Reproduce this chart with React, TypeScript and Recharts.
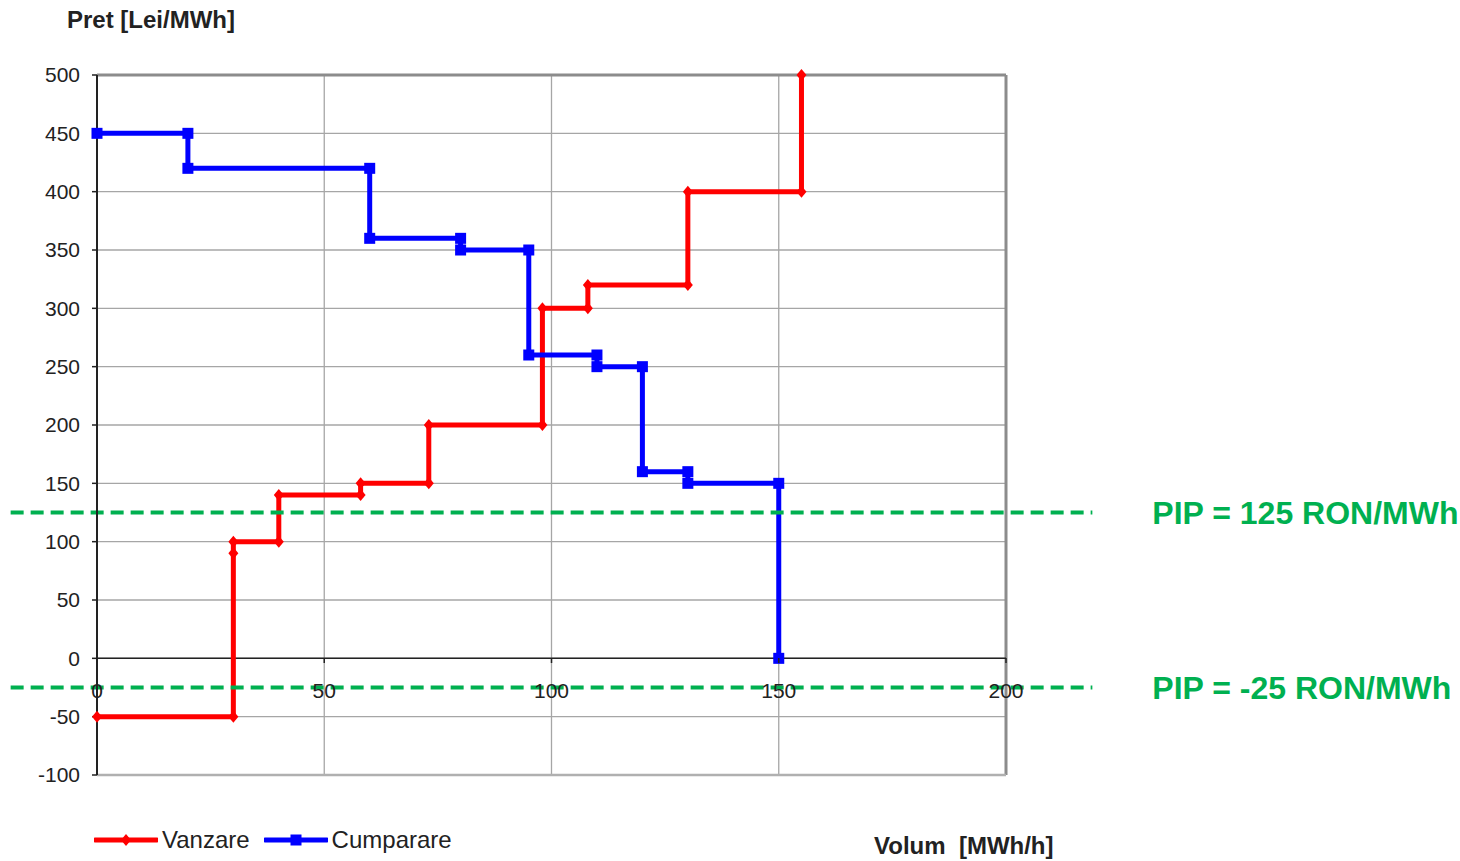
import { CartesianGrid, Line, LineChart, ReferenceLine, XAxis, YAxis } from "recharts";

// Vanzare (sell) curve vertices
const vanzareX = [0, 30, 30, 30, 40, 40, 58, 58, 73, 73, 98, 98, 108, 108, 130, 130, 155, 155];
const vanzareY = [-50, -50, 90, 100, 100, 140, 140, 150, 150, 200, 200, 300, 300, 320, 320, 400, 400, 500];

// Cumparare (buy) curve vertices
const cumparareX = [0, 20, 20, 60, 60, 80, 80, 95, 95, 110, 110, 120, 120, 130, 130, 150, 150];
const cumparareY = [450, 450, 420, 420, 360, 360, 350, 350, 260, 260, 250, 250, 160, 160, 150, 150, 0];

const xTicks = [0, 50, 100, 150, 200];
const yTicks = [-100, -50, 0, 50, 100, 150, 200, 250, 300, 350, 400, 450, 500];

const pipLevels = [125, -25];
const pipLabels = ["PIP = 125 RON/MWh", "PIP = -25 RON/MWh"];
const pipSpan = [-19, 219];

const vanzare = vanzareX.map((x, i) => ({ x, y: vanzareY[i] }));
const cumparare = cumparareX.map((x, i) => ({ x, y: cumparareY[i] }));

const RED = "#ff0000";
const BLUE = "#0000ff";
const GREEN = "#00b050";
const FONT = "'Liberation Sans', Arial, sans-serif";

function Diamond({ cx, cy, index }: any) {
  return <path key={`d${index}`} d={`M${cx},${cy - 6}L${cx + 5},${cy}L${cx},${cy + 6}L${cx - 5},${cy}Z`} fill={RED} />;
}

function Square({ cx, cy, index }: any) {
  return <rect key={`s${index}`} x={cx - 5.5} y={cy - 5.5} width={11} height={11} fill={BLUE} />;
}

// x labels sit just under the y=0 line, not at the bottom of the plot
function XTick({ x, y, payload }: any) {
  return (
    <g>
      <line x1={x} x2={x} y1={y - 117} y2={y - 112} stroke="#222" strokeWidth={1.5} />
      <text x={x} y={y - 85} textAnchor="middle" dominantBaseline="central" fontSize={21} fill="#222" fontFamily={FONT}>
        {payload.value}
      </text>
    </g>
  );
}

function LegendBox() {
  const items = [
    { name: "Vanzare", color: RED, diamond: true },
    { name: "Cumparare", color: BLUE, diamond: false },
  ];
  return (
    <div style={{ display: "flex", alignItems: "center", fontFamily: FONT, fontSize: 24, color: "#222" }}>
      {items.map((it) => (
        <div key={it.name} style={{ display: "flex", alignItems: "center", marginRight: 14 }}>
          <svg width={64} height={14} style={{ marginRight: 4 }}>
            <line x1={1} x2={63} y1={7} y2={7} stroke={it.color} strokeWidth={5} strokeLinecap="round" />
            {it.diamond ? (
              <path d="M32,1L37,7L32,13L27,7Z" fill={it.color} />
            ) : (
              <rect x={26.5} y={1.5} width={11} height={11} fill={it.color} />
            )}
          </svg>
          <span>{it.name}</span>
        </div>
      ))}
    </div>
  );
}

export default function App() {
  return (
    <div style={{ position: "relative", width: 1460, height: 861, background: "#fff", fontFamily: FONT }}>
      <style>{`body{margin:0}`}</style>
      <div style={{ position: "absolute", left: 67, top: 6, fontSize: 24, fontWeight: "bold", color: "#222" }}>Pret [Lei/MWh]</div>
      <div style={{ position: "absolute", left: 874, top: 832, fontSize: 24, fontWeight: "bold", color: "#222", whiteSpace: "pre" }}>
        {"Volum  [MWh/h]"}
      </div>
      <div style={{ position: "absolute", left: 94, top: 826 }}>
        <LegendBox />
      </div>
      <LineChart width={1460} height={861} margin={{ top: 75, right: 454, bottom: 56, left: 0 }}>
        <CartesianGrid stroke="#a6a6a6" strokeWidth={1.3} />
        <XAxis
          type="number"
          dataKey="x"
          domain={[0, 200]}
          ticks={xTicks}
          height={30}
          axisLine={false}
          tickLine={false}
          tickSize={0}
          tickMargin={0}
          tick={<XTick />}
          interval={0}
        />
        <YAxis
          type="number"
          domain={[-100, 500]}
          ticks={yTicks}
          width={97}
          interval={0}
          axisLine={{ stroke: "#222", strokeWidth: 2 }}
          tickLine={{ stroke: "#222", strokeWidth: 1.5 }}
          tickSize={5}
          tickMargin={12}
          tick={{ fontSize: 21, fill: "#222", fontFamily: FONT }}
        />
        <ReferenceLine x={200} stroke="#8c8c8c" strokeWidth={3} />
        <ReferenceLine y={500} stroke="#8c8c8c" strokeWidth={3} />
        <ReferenceLine y={-100} stroke="#b0b0b0" strokeWidth={2.5} />
        <ReferenceLine y={0} stroke="#222" strokeWidth={1.5} />
        <Line
          data={vanzare}
          dataKey="y"
          name="Vanzare"
          type="linear"
          stroke={RED}
          strokeWidth={5}
          dot={<Diamond />}
          activeDot={false}
          isAnimationActive={false}
        />
        <Line
          data={cumparare}
          dataKey="y"
          name="Cumparare"
          type="linear"
          stroke={BLUE}
          strokeWidth={5}
          dot={<Square />}
          activeDot={false}
          isAnimationActive={false}
        />
        {pipLevels.map((lvl, i) => (
          <ReferenceLine
            key={lvl}
            segment={[
              { x: pipSpan[0], y: lvl },
              { x: pipSpan[1], y: lvl },
            ]}
            ifOverflow="visible"
            stroke={GREEN}
            strokeWidth={4}
            strokeDasharray="13 7"
            label={{
              value: pipLabels[i],
              position: "right",
              offset: 60,
              fill: GREEN,
              fontSize: 32,
              fontWeight: "bold",
              fontFamily: FONT,
            }}
          />
        ))}
      </LineChart>
    </div>
  );
}
